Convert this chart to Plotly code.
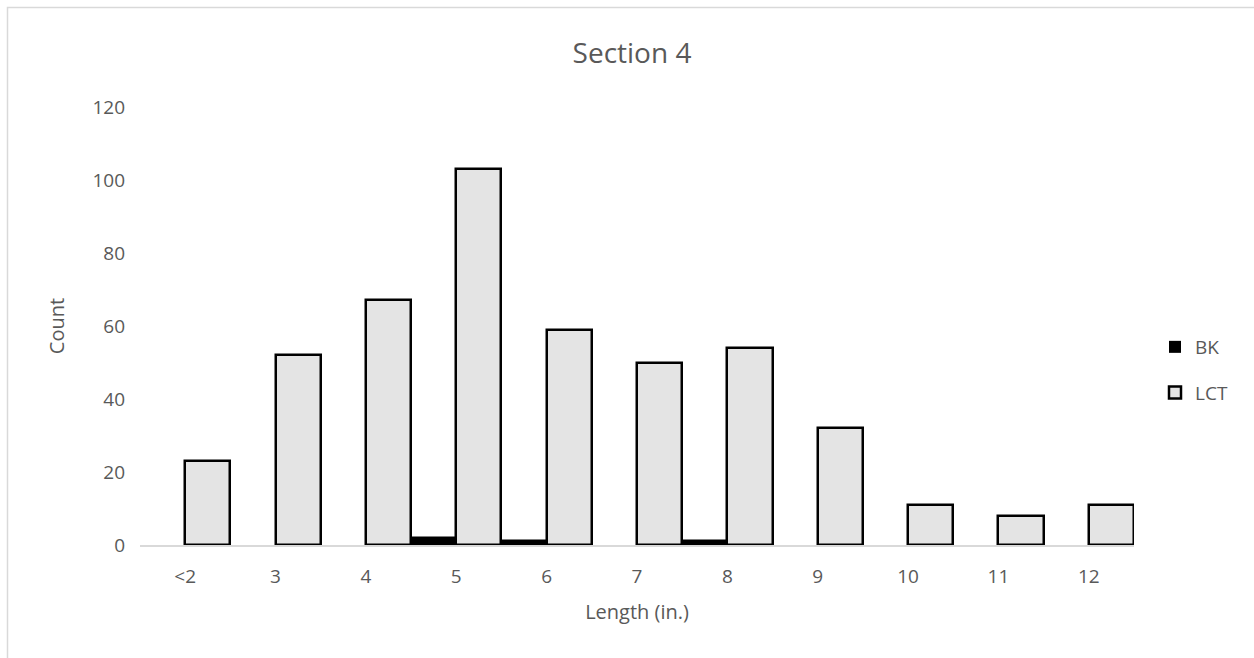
import plotly.graph_objects as go

# Length classes (inches) and fish counts per species
lengths = ["<2", "3", "4", "5", "6", "7", "8", "9", "10", "11", "12"]
bk_counts = [0, 0, 0, 2, 1, 0, 1, 0, 0, 0, 0]
lct_counts = [23, 52, 67, 103, 59, 50, 54, 32, 11, 8, 11]
y_ticks = [0, 20, 40, 60, 80, 100, 120]

FONT = "Open Sans"
GREY = "#595959"

# plot area in pixels
L, R, T, B = 140, 120, 107, 113
W, H = 1254, 658
pw, ph = W - L - R, H - T - B


def px_x(x):
    return (x - L) / pw


def px_y(y):
    return (H - B - y) / ph


fig = go.Figure()
fig.add_trace(go.Bar(
    name="BK", x=lengths, y=bk_counts,
    marker=dict(color="#000000",
                line=dict(color="#000000",
                          width=[2.5 if v > 0 else 0 for v in bk_counts])),
    legendgroup="bk",
))
fig.add_trace(go.Bar(
    name="LCT", x=lengths, y=lct_counts,
    marker=dict(color="#e4e4e4",
                line=dict(color="#000000",
                          width=[2.5 if v > 0 else 0 for v in lct_counts])),
    legendgroup="lct",
))

fig.update_layout(
    width=W, height=H,
    margin=dict(l=L, r=R, t=T, b=B),
    paper_bgcolor="white", plot_bgcolor="white",
    barmode="group", bargap=0, bargroupgap=0,
    font=dict(family=FONT, color=GREY, size=18),
    title=dict(text="Section 4", x=px_x(632), xref="paper", xanchor="center",
               y=1 - 53 / H, yanchor="middle",
               font=dict(size=28, color=GREY, family=FONT)),
    xaxis=dict(
        showgrid=False, zeroline=False,
        showline=True, linecolor="#d9d9d9", linewidth=1.5,
        ticks="", tickfont=dict(size=19, color=GREY),
        ticklabelstandoff=13,
        title=dict(text="Length (in.)", font=dict(size=20, color=GREY), standoff=17),
    ),
    yaxis=dict(
        range=[0, 120], tickvals=y_ticks,
        showgrid=False, zeroline=False, showline=False,
        ticks="", tickfont=dict(size=19, color=GREY),
        ticklabelstandoff=14,
        title=dict(text="Count", font=dict(size=20, color=GREY), standoff=22),
    ),
    legend=dict(
        x=px_x(1155), xanchor="left",
        y=px_y(370), yanchor="middle",
        font=dict(size=19, color=GREY),
        tracegroupgap=18, itemwidth=30,
        bgcolor="rgba(0,0,0,0)",
    ),
    showlegend=True,
)

# light chart frame
fig.add_shape(type="rect", xref="paper", yref="paper",
              x0=px_x(7.5), x1=px_x(W + 20), y0=px_y(H + 20), y1=px_y(7.5),
              line=dict(color="#d9d9d9", width=1.5), fillcolor="rgba(0,0,0,0)",
              layer="below")

fig.write_html("out.html")
